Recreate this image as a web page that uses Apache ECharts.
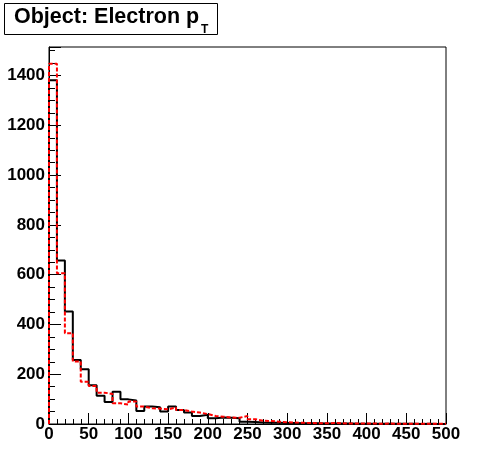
<!DOCTYPE html>
<html>
<head>
<meta charset="utf-8">
<script src="https://cdn.jsdelivr.net/npm/echarts@6/dist/echarts.min.js"></script>
<style>
html,body{margin:0;padding:0;background:#fff;}
#chart{width:496px;height:472px;}
</style>
</head>
<body>
<div id="chart"></div>
<script>
const binEdges = [0,10,20,30,40,50,60,70,80,90,100,110,120,130,140,150,160,170,180,190,200,210,220,230,240,250,260,270,280,290,300,310,320,330,340,350,360,370,380,390,400,410,420,430,440,450,460,470,480,490,500];
const blackCounts = [1381,657,452,257,220,156,114,88,130,99,94,52,70,67,50,70,56,46,32,37,23,26,25,23,9,8,6,5,5,4,4,3,3,3,2,2,2,2,1,1,1,1,1,1,1,1,0,1,0,0];
const redCounts = [1448,606,365,251,170,153,126,121,83,78,90,70,63,62,59,66,56,50,46,40,32,29,26,25,32,19,13,12,9,7,6,5,4,3,3,4,3,2,2,2,2,1,2,1,1,1,1,1,1,1];
const xTicks = [0,50,100,150,200,250,300,350,400,450,500];
const yTicks = [0,200,400,600,800,1000,1200,1400];
const titleMain = 'Object: Electron p';
const titleSub = 'T';

function stepData(counts){
  const d = [[binEdges[0], 0]];
  for (let i = 0; i < counts.length; i++) d.push([binEdges[i], counts[i]]);
  d.push([binEdges[binEdges.length-1], counts[counts.length-1]]);
  d.push([binEdges[binEdges.length-1], 0]);
  return d;
}

const font = 'Liberation Sans, Arial, Helvetica, sans-serif';
const chart = echarts.init(document.getElementById('chart'), null, {renderer:'canvas'});
chart.setOption({
  animation: false,
  backgroundColor: '#fff',
  grid: {left: 49, right: 50, top: 47, bottom: 48, show: true, borderColor: '#000', borderWidth: 1, backgroundColor: 'transparent'},
  xAxis: {
    type: 'value', min: xTicks[0], max: xTicks[xTicks.length-1], interval: xTicks[1]-xTicks[0],
    axisLine: {show: true, lineStyle: {color: '#000', width: 1}},
    axisTick: {show: true, inside: true, length: 11, lineStyle: {color: '#000', width: 1}},
    minorTick: {show: true, splitNumber: 5, length: 5, lineStyle: {color: '#000', width: 1}},
    splitLine: {show: false},
    axisLabel: {color: '#000', fontFamily: font, fontWeight: 'bold', fontSize: 17, margin: 2}
  },
  yAxis: {
    type: 'value', min: yTicks[0], max: 1515, interval: yTicks[1]-yTicks[0],
    axisLine: {show: true, lineStyle: {color: '#000', width: 1}},
    axisTick: {show: true, inside: true, length: 12, lineStyle: {color: '#000', width: 1}},
    minorTick: {show: true, splitNumber: 4, length: 6, lineStyle: {color: '#000', width: 1}},
    splitLine: {show: false},
    axisLabel: {color: '#000', fontFamily: font, fontWeight: 'bold', fontSize: 17, margin: 4, showMaxLabel: false,
      formatter: function(v){ return yTicks.indexOf(v) >= 0 ? String(v) : ''; }}
  },
  series: [
    {type: 'line', step: 'end', symbol: 'none', data: stepData(blackCounts),
     lineStyle: {color: '#000', width: 2}, z: 2},
    {type: 'line', step: 'end', symbol: 'none', data: stepData(redCounts),
     lineStyle: {color: '#ff0000', width: 2, type: [4,2]}, z: 3}
  ],
  graphic: [
    {type: 'rect', shape: {x: 4.5, y: 3.5, width: 213, height: 31}, style: {fill: '#fff', stroke: '#000', lineWidth: 1}},
    {type: 'text', x: 14, y: 6, style: {text: titleMain, font: 'bold 21.5px ' + font, fill: '#000', verticalAlign: 'top'}},
    {type: 'text', x: 201, y: 24, style: {text: titleSub, font: 'bold 12px ' + font, fill: '#000', verticalAlign: 'top'}}
  ]
});
</script>
</body>
</html>
